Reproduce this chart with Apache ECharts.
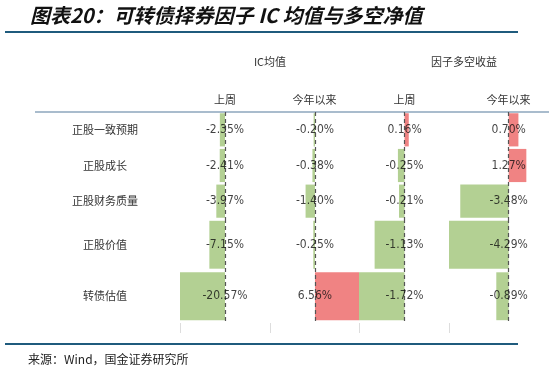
<!DOCTYPE html>
<html><head><meta charset="utf-8">
<script src="https://cdn.jsdelivr.net/npm/echarts@6/dist/echarts.min.js"></script>
<style>html,body{margin:0;padding:0;background:#fff}#c{width:557px;height:373px}</style>
</head><body><div id="c"></div>
<script>
// ---- data ----
const categories = ['正股一致预期', '正股成长', '正股财务质量', '正股价值', '转债估值'];
const icLastWeek = [-2.35, -2.41, -3.97, -7.15, -20.57];
const icYTD = [-0.20, -0.38, -1.40, -0.25, 6.56];
const lsLastWeek = [0.16, -0.25, -0.21, -1.13, -1.72];
const lsYTD = [0.70, 1.27, -3.48, -4.29, -0.89];
const columnNames = ['上周', '今年以来', '上周', '今年以来'];
const groupNames = ['IC均值', '因子多空收益'];

// ---- layout / style ----
const cols = [
  {data: icLastWeek, left: 180, width: 90, min: -20.57, max: 20.57},
  {data: icYTD,      left: 270, width: 89, min: -6.7,   max: 6.56},
  {data: lsLastWeek, left: 359, width: 90, min: -1.72,  max: 1.68},
  {data: lsYTD,      left: 449, width: 90, min: -4.29,  max: 2.18}
];
const bands = [{top: 112, height: 107, from: 0, to: 3}, {top: 219, height: 103, from: 3, to: 5}];
const GREEN = '#b3d093', RED = '#f08383';
const numFont = '"Liberation Sans Narrow","DejaVu Sans Condensed",sans-serif';
const cjk = '"Noto Sans CJK SC",sans-serif';

const grid = [], xAxis = [], yAxis = [], series = [];
let gi = 0;
bands.forEach((b, bi) => {
  cols.forEach((c, ci) => {
    grid.push({left: c.left, top: b.top, width: c.width, height: b.height});
    xAxis.push({type: 'value', gridIndex: gi, min: c.min, max: c.max, show: false});
    yAxis.push({type: 'category', gridIndex: gi, inverse: true,
      data: categories.slice(b.from, b.to),
      axisLine: {show: false}, axisTick: {show: false}, splitLine: {show: false},
      axisLabel: {show: ci === 0, align: 'center', margin: 75, fontFamily: cjk, fontSize: 11, color: '#333'}});
    const vals = c.data.slice(b.from, b.to);
    series.push({type: 'bar', xAxisIndex: gi, yAxisIndex: gi, barCategoryGap: '7%',
      data: vals.map(v => ({value: v, itemStyle: {color: v >= 0 ? RED : GREEN}})),
      silent: true, animation: false,
      markLine: {silent: true, symbol: 'none', label: {show: false},
        lineStyle: {type: [4, 3], color: '#555', width: 1.2}, data: [{xAxis: 0}]}});
    series.push({type: 'scatter', xAxisIndex: gi, yAxisIndex: gi, symbolSize: 0, animation: false, silent: true,
      data: vals.map((v, i) => [0, i]),
      label: {show: true, position: 'inside', fontFamily: numFont, fontSize: 12, color: '#111',
        formatter: p => vals[p.dataIndex].toFixed(2) + '%'}, z: 5});
    gi++;
  });
});

const headerY = 100;
const zeroX = [225, 314.5, 404.5, 508.5];
const graphic = [
  {type: 'text', left: 30, top: 5, style: {text: '图表20：可转债择券因子 IC 均值与多空净值', font: 'italic bold 20px "Noto Sans CJK SC",sans-serif', fill: '#111'}},
  {type: 'line', shape: {x1: 5, y1: 32, x2: 518, y2: 32}, style: {stroke: '#1f5b7d', lineWidth: 2}},
  {type: 'line', shape: {x1: 5, y1: 344, x2: 518, y2: 344}, style: {stroke: '#1f5b7d', lineWidth: 2}},
  {type: 'line', shape: {x1: 35, y1: 112, x2: 549, y2: 112}, style: {stroke: '#a9bccd', lineWidth: 2}},
  {type: 'text', x: 28, y: 353, style: {text: '来源：Wind，国金证券研究所', font: '12px "Noto Sans CJK SC",sans-serif', fill: '#222'}},
  {type: 'text', x: 270, y: 62, style: {text: groupNames[0], font: '11px "Noto Sans CJK SC",sans-serif', fill: '#333', align: 'center', verticalAlign: 'middle'}},
  {type: 'text', x: 464, y: 62, style: {text: groupNames[1], font: '11px "Noto Sans CJK SC",sans-serif', fill: '#333', align: 'center', verticalAlign: 'middle'}}
];
columnNames.forEach((n, i) => graphic.push({type: 'text', x: zeroX[i], y: headerY,
  style: {text: n, font: '11px "Noto Sans CJK SC",sans-serif', fill: '#333', align: 'center', verticalAlign: 'middle'}}));
cols.forEach(c => graphic.push({type: 'line', shape: {x1: c.left + 0.5, y1: 323, x2: c.left + 0.5, y2: 333}, style: {stroke: '#ddd', lineWidth: 1}}));

const chart = echarts.init(document.getElementById('c'));
chart.setOption({animation: false, grid, xAxis, yAxis, series, graphic});
</script></body></html>
